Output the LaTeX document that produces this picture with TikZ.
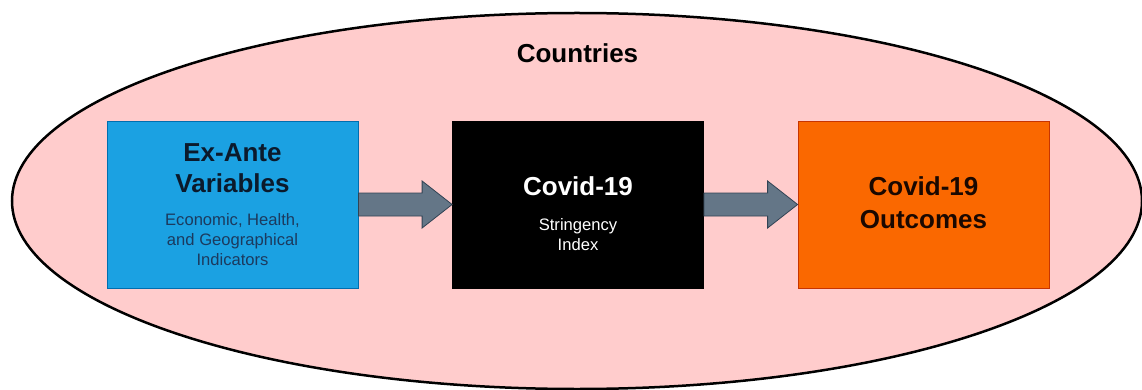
\documentclass[tikz,border=0pt]{standalone}
\usepackage{fontspec}
\setmainfont{Liberation Sans}
\usetikzlibrary{shapes.geometric,calc}
\definecolor{pinkfill}{HTML}{FFCCCC}
\definecolor{bluefill}{HTML}{1BA1E2}
\definecolor{blueline}{HTML}{006EAF}
\definecolor{orangefill}{HTML}{FA6800}
\definecolor{orangeline}{HTML}{C73500}
\definecolor{arrowfill}{HTML}{647687}
\definecolor{arrowline}{HTML}{314354}
\definecolor{bluetitle}{HTML}{0B1A2C}
\definecolor{bluesub}{HTML}{1C3A5E}
\definecolor{orangetext}{HTML}{1A0800}
\tikzset{
  region/.style={ellipse, draw=black, line width=2.5pt, fill=pinkfill,
    minimum width=1130pt, minimum height=376pt, inner sep=0pt},
  stagebox/.style={rectangle, minimum width=251pt, minimum height=167pt, inner sep=0pt, line width=0.8pt},
  bigtxt/.style={anchor=base, inner sep=0pt, font=\fontsize{26}{31}\selectfont\bfseries},
  smalltxt/.style={anchor=base, inner sep=0pt, font=\fontsize{16.6}{20}\selectfont},
  blockarrow/.style={fill=arrowfill, draw=arrowline, line width=0.8pt, line join=miter},
}
\begin{document}
\begin{tikzpicture}[x=1pt,y=-1pt]
\useasboundingbox (0,0) rectangle (1142,390);
\node[region] (reg) at (577,201) {};
\node[bigtxt] (ctitle) at (577.5,63) {Countries};

\node[stagebox, fill=bluefill, draw=blueline] (ex) at (232.5,204.5) {};
\node[stagebox, fill=black, draw=black] (sti) at (578,204.5) {};
\node[stagebox, fill=orangefill, draw=orangeline] (out) at (923.5,204.5) {};

\node[bigtxt, text=bluetitle] (ex1) at ($(ex.center)+(0,-42.5)$) {Ex-Ante};
\node[bigtxt, text=bluetitle] (ex2) at ($(ex.center)+(0,-11.5)$) {Variables};
\node[smalltxt, text=bluesub] (ex3) at ($(ex.center)+(0,20.5)$) {Economic, Health,};
\node[smalltxt, text=bluesub] (ex4) at ($(ex.center)+(0,40.5)$) {and Geographical};
\node[smalltxt, text=bluesub] (ex5) at ($(ex.center)+(0,60.5)$) {Indicators};

\node[bigtxt, text=white] (st1) at ($(sti.center)+(0,-9.5)$) {Covid-19};
\node[smalltxt, text=white] (st2) at ($(sti.center)+(0,25.5)$) {Stringency};
\node[smalltxt, text=white] (st3) at ($(sti.center)+(0,45.5)$) {Index};

\node[bigtxt, text=orangetext] (ou1) at ($(out.center)+(0,-9.5)$) {Covid-19};
\node[bigtxt, text=orangetext] (ou2) at ($(out.center)+(0,24)$) {Outcomes};

\draw[blockarrow] ($(ex.east)+(0,-11.5)$) -- ($(sti.west)+(-30,-11.5)$)
  -- ($(sti.west)+(-30,-23.5)$) -- (sti.west) -- ($(sti.west)+(-30,23.5)$)
  -- ($(sti.west)+(-30,11.5)$) -- ($(ex.east)+(0,11.5)$) -- cycle;
\draw[blockarrow] ($(sti.east)+(0,-11.5)$) -- ($(out.west)+(-30,-11.5)$)
  -- ($(out.west)+(-30,-23.5)$) -- (out.west) -- ($(out.west)+(-30,23.5)$)
  -- ($(out.west)+(-30,11.5)$) -- ($(sti.east)+(0,11.5)$) -- cycle;
\end{tikzpicture}
\end{document}
